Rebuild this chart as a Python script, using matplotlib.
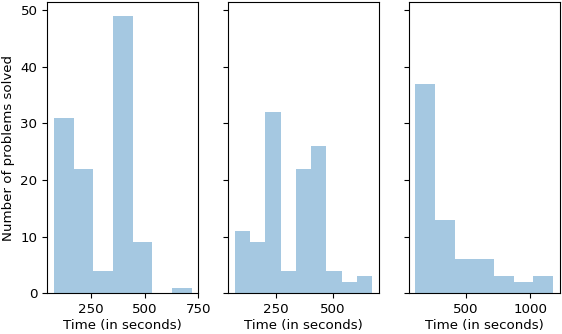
import numpy as np
import matplotlib
matplotlib.use("Agg")
import matplotlib.pyplot as plt

plt.rcParams["font.size"] = 9.6

# histogram bin edges (seconds) and counts
edges_a = np.linspace(78, 719, 8)
counts_a = [31, 22, 4, 49, 9, 0, 1]

edges_b = np.linspace(68, 672, 10)
counts_b = [11, 9, 32, 4, 22, 26, 4, 2, 3]

edges_c = np.linspace(107, 1177, 8)
counts_c = [37, 13, 6, 6, 3, 2, 3]

panels = [(edges_a, counts_a), (edges_b, counts_b), (edges_c, counts_c)]
xticks = [[250, 500, 750], [250, 500], [500, 1000]]

bar_color = "#1f77b4"

fig, axes = plt.subplots(1, 3, sharey=True, figsize=(5.62, 3.34), dpi=100)

for ax, (edges, counts), ticks in zip(axes, panels, xticks):
    edges = np.asarray(edges)
    ax.hist(edges[:-1], bins=edges, weights=counts,
            color=bar_color, alpha=0.4)
    ax.set_xticks(ticks)
    ax.set_xlabel("Time (in seconds)", labelpad=2)

axes[0].set_ylabel("Number of problems solved")
axes[0].set_yticks([0, 10, 20, 30, 40, 50])

plt.subplots_adjust(left=0.084, right=0.996, top=0.994, bottom=0.122,
                    wspace=0.195)

plt.savefig("out.png", dpi=100)
